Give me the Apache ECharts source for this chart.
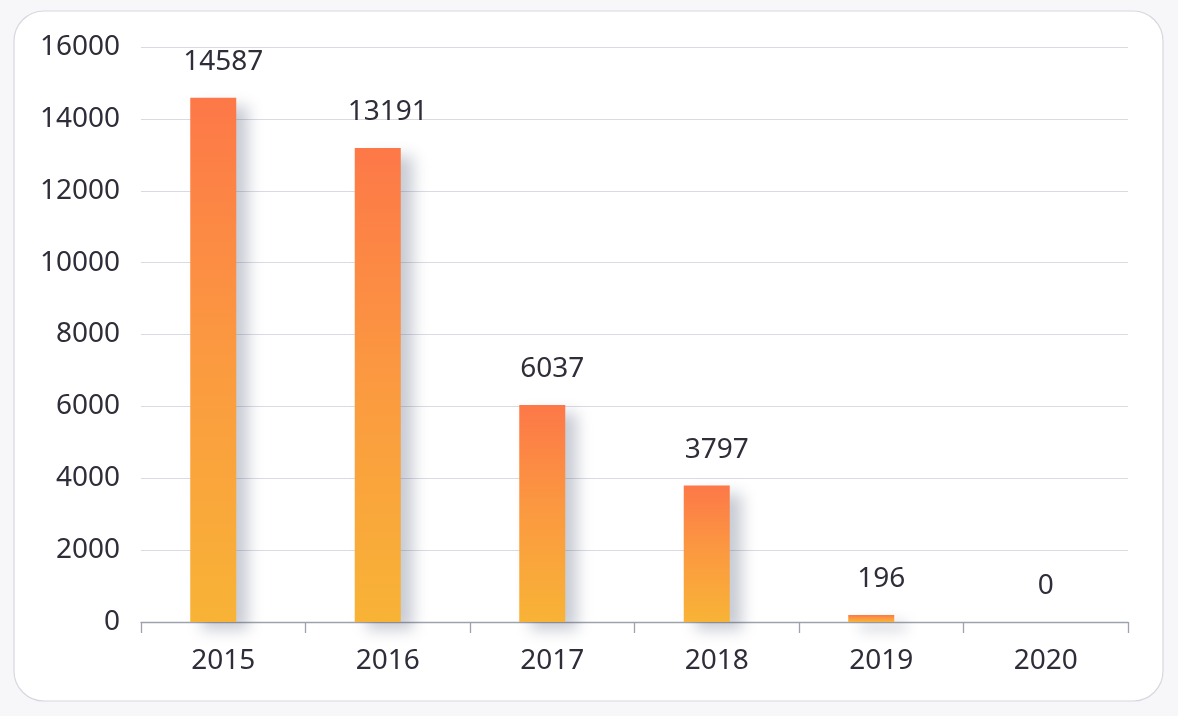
<!DOCTYPE html>
<html>
<head>
<meta charset="utf-8">
<script src="https://cdn.jsdelivr.net/npm/echarts@6/dist/echarts.min.js"></script>
<style>
  html, body { margin: 0; padding: 0; background: #f7f7f9; }
  #main { width: 1178px; height: 716px; }
</style>
</head>
<body>
<div id="main"></div>
<script>
const years = ['2015', '2016', '2017', '2018', '2019', '2020'];
const counts = [14587, 13191, 6037, 3797, 196, 0];
const yTicks = { min: 0, max: 16000, interval: 2000 };

const textColor = '#2e2e3a';
const axisColor = '#9ea2ac';
const font = 'Noto Sans';

const myChart = echarts.init(document.getElementById('main'));
myChart.setOption({
    backgroundColor: 'transparent',
    animation: false,
    graphic: [{
        type: 'rect',
        z: -10,
        shape: { x: 14, y: 11, width: 1149, height: 690, r: 30 },
        style: { fill: '#ffffff', stroke: '#d6d8df', lineWidth: 1.2 }
    }],
    grid: { left: 141, right: 50, top: 47, bottom: 94 },
    xAxis: {
        type: 'category',
        data: years,
        axisLine: { lineStyle: { color: axisColor, width: 1.3 } },
        axisTick: { show: true, length: 11, lineStyle: { color: axisColor, width: 1.3 } },
        axisLabel: { color: textColor, fontSize: 28, fontFamily: font, margin: 25 }
    },
    yAxis: {
        type: 'value',
        min: yTicks.min,
        max: yTicks.max,
        interval: yTicks.interval,
        axisLine: { show: false },
        axisTick: { show: false },
        axisLabel: {
            color: textColor, fontSize: 28, fontFamily: font, margin: 21,
            formatter: (v) => String(v)
        },
        splitLine: { lineStyle: { color: '#d9dbe2', width: 1.2 } }
    },
    series: [
        {
            type: 'bar',
            data: counts,
            barWidth: 46,
            barGap: '0%',
            itemStyle: {
                color: new echarts.graphic.LinearGradient(0, 0, 0, 1, [
                    { offset: 0, color: '#fd7848' },
                    { offset: 0.5, color: '#fb9a40' },
                    { offset: 1, color: '#f8b336' }
                ]),
                shadowColor: 'rgba(60, 70, 100, 0.28)',
                shadowBlur: 14,
                shadowOffsetX: 12,
                shadowOffsetY: 8
            },
            label: {
                show: true,
                position: 'top',
                distance: 22,
                offset: [10, 0],
                color: textColor,
                fontSize: 28,
                fontFamily: font
            }
        },
        {
            type: 'bar',
            data: counts,
            barWidth: 20,
            itemStyle: { color: 'rgba(0,0,0,0)' },
            silent: true
        }
    ]
});
</script>
</body>
</html>
